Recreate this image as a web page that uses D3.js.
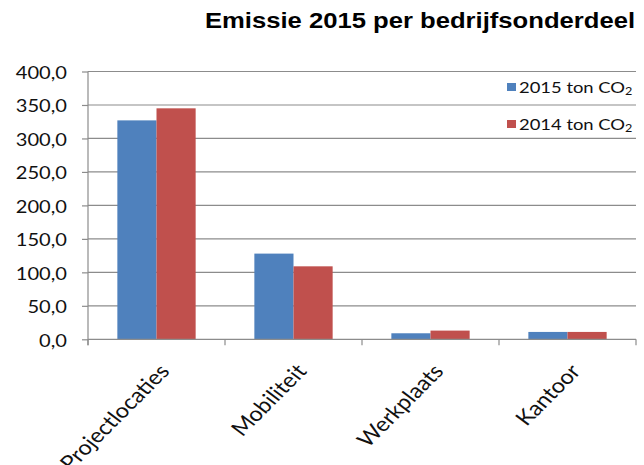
<!DOCTYPE html>
<html>
<head>
<meta charset="utf-8">
<script src="https://cdn.jsdelivr.net/npm/d3@7"></script>
<style>
  html, body { margin: 0; padding: 0; background: #fff; }
  svg { display: block; }
</style>
</head>
<body>
<div id="chart"></div>
<script>
// data
const categories = ['Projectlocaties', 'Mobiliteit', 'Werkplaats', 'Kantoor'];
const seriesNames = ['2015 ton CO', '2014 ton CO'];
const values2015 = [327, 128, 9, 11];
const values2014 = [345, 109, 13, 11];
const yTicks = [0, 50, 100, 150, 200, 250, 300, 350, 400];
const colors = ['#4F81BD', '#C0504D'];

const W = 644, H = 465;
const SX = 1.15; // the picture is a bit stretched sideways, text too
const txtFont = 'Lato, "Open Sans", sans-serif';

const svg = d3.select('#chart').append('svg')
    .attr('width', W)
    .attr('height', H);

const plot = { left: 88, right: 636, top: 71.5, bottom: 339.3 };

const x0 = d3.scaleBand()
    .domain(categories)
    .range([plot.left, plot.right])
    .padding(0);

const x1 = d3.scaleBand()
    .domain(seriesNames)
    .range([0, x0.bandwidth()])
    .paddingInner(0)
    .paddingOuter(0.75);

const y = d3.scaleLinear()
    .domain([0, 400])
    .range([plot.bottom, plot.top]);

const fmt = v => d3.format('.1f')(v).replace('.', ',');

// gridlines
svg.append('g')
    .selectAll('line')
    .data(yTicks.filter(t => t > 0))
    .join('line')
    .attr('x1', plot.left)
    .attr('x2', plot.right)
    .attr('y1', d => y(d))
    .attr('y2', d => y(d))
    .style('stroke', '#8c8c8c')
    .style('stroke-width', 1.2);

// bars
const rows = categories.map((c, i) => ({ cat: c, vals: [values2015[i], values2014[i]] }));
const groups = svg.append('g')
    .selectAll('g')
    .data(rows)
    .join('g')
    .attr('transform', d => `translate(${x0(d.cat)},0)`);

groups.selectAll('rect')
    .data(d => d.vals.map((v, k) => ({ name: seriesNames[k], v, k })))
    .join('rect')
    .attr('x', d => x1(d.name))
    .attr('width', x1.bandwidth())
    .attr('y', d => y(d.v))
    .attr('height', d => y(0) - y(d.v))
    .style('fill', d => colors[d.k]);

// y axis
const yAxis = d3.axisLeft(y)
    .tickValues(yTicks)
    .tickSize(6)
    .tickFormat(fmt);

const gy = svg.append('g')
    .attr('transform', `translate(${plot.left},0)`)
    .call(yAxis);
gy.select('.domain').style('stroke', '#8c8c8c').style('stroke-width', 1.2)
    .attr('d', `M0,${plot.top}V${plot.bottom + 6}`);
gy.selectAll('.tick line').style('stroke', '#8c8c8c').style('stroke-width', 1.2);
gy.selectAll('.tick text')
    .style('font-family', txtFont)
    .style('font-size', '17.5px')
    .style('fill', '#111')
    .attr('x', null)
    .attr('dy', null)
    .attr('dominant-baseline', 'central')
    .attr('transform', `translate(-21,0) scale(${SX},1)`);

// x axis
const xAxis = d3.axisBottom(x0).tickSize(0).tickFormat('');
const gx = svg.append('g')
    .attr('transform', `translate(0,${plot.bottom})`)
    .call(xAxis);
gx.select('.domain').style('stroke', '#8c8c8c').style('stroke-width', 1.2)
    .attr('d', `M${plot.left},0H${plot.right}`);
gx.selectAll('.tick').remove();

// category boundary ticks
const bounds = categories.map(c => x0(c)).concat([x0(categories[categories.length - 1]) + x0.bandwidth()]);
gx.selectAll('.bound')
    .data(bounds)
    .join('line')
    .attr('class', 'bound')
    .attr('x1', d => d).attr('x2', d => d)
    .attr('y1', 0).attr('y2', 6)
    .style('stroke', '#8c8c8c')
    .style('stroke-width', 1.2);

// rotated category labels
gx.selectAll('.cat')
    .data(categories)
    .join('text')
    .attr('class', 'cat')
    .attr('transform', d => `translate(${x0(d) + x0.bandwidth() / 2},${22}) scale(${SX},1) rotate(-49)`)
    .attr('text-anchor', 'end')
    .attr('dominant-baseline', 'hanging')
    .style('font-family', txtFont)
    .style('font-size', '20.5px')
    .style('fill', '#111')
    .text(d => d);

// legend
const legend = svg.append('g');
const legY = [87, 124];
seriesNames.forEach((name, k) => {
    const row = legend.append('g').attr('transform', `translate(507,${legY[k]})`);
    row.append('rect')
        .attr('x', 0).attr('y', -4)
        .attr('width', 9).attr('height', 8)
        .style('fill', colors[k]);
    const t = row.append('text')
        .attr('x', 0)
        .attr('y', 0)
        .attr('dominant-baseline', 'central')
        .attr('transform', `translate(12,0) scale(${SX},1)`)
        .style('font-family', txtFont)
        .style('font-size', '16px')
        .style('fill', '#111');
    t.append('tspan').text(name);
    t.append('tspan').attr('dy', 3).style('font-size', '11px').text('2');
});

// title
svg.append('text')
    .attr('transform', `translate(420,28) scale(${SX},1)`)
    .attr('text-anchor', 'middle')
    .style('font-family', '"Liberation Sans", Arial, sans-serif')
    .style('font-weight', 'bold')
    .style('font-size', '22.3px')
    .style('fill', '#000')
    .text('Emissie 2015 per bedrijfsonderdeel');
</script>
</body>
</html>
